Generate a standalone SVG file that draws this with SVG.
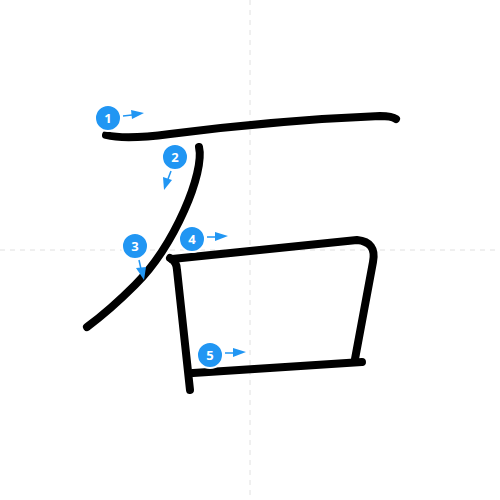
<svg xmlns="http://www.w3.org/2000/svg" width="500" height="500" viewBox="0 0 500 500">
<style>
.grid{stroke:#e0e0e0;stroke-width:1;stroke-dasharray:5,5;fill:none}
.st{fill:none;stroke:#000;stroke-width:8;stroke-linecap:round;stroke-linejoin:round}
.badge{fill:#2196f3;stroke:#fff;stroke-width:2}
.num{fill:#fff;font-family:"Open Sans","DejaVu Sans",sans-serif;font-weight:bold;font-size:13px;text-anchor:middle;dominant-baseline:central}
.arr{stroke:#2196f3;stroke-width:1.5;fill:none}
.head{fill:#2196f3}
</style>
<rect width="500" height="500" fill="#fff"/>
<g id="grid">
<line class="grid" x1="250" y1="0" x2="250" y2="500"/>
<line class="grid" x1="0" y1="250" x2="500" y2="250"/>
</g>
<g id="connectors">
<path id="s1" class="st" d="M106,135 Q125,140 170,134 Q280,120 380,116 Q392,116 396,119"/>
<path id="s2" class="st" d="M199,147 C205,172 175,245 135,285 Q110,310 87,327"/>
<path id="s3" class="st" d="M170,258 Q177,262 177,270 L190,390"/>
<path id="s4" class="st" d="M172,259 L357,240 Q377,242 373,262 L355,359"/>
<path id="s5" class="st" d="M193,373 L362,362"/>
</g>
<g id="n1">
<circle class="badge" cx="108" cy="118" r="13"/><text class="num" x="108" y="118">1</text>
<line class="arr" x1="123" y1="116" x2="132" y2="115"/><polygon class="head" points="131,110 144,113 132,119"/>
</g>
<g id="n2">
<circle class="badge" cx="175" cy="157" r="13"/><text class="num" x="175" y="157">2</text>
<line class="arr" x1="171" y1="171" x2="168" y2="179"/><polygon class="head" points="163,177 172,180 164,190"/>
</g>
<g id="n3">
<circle class="badge" cx="135" cy="246" r="13"/><text class="num" x="135" y="246">3</text>
<line class="arr" x1="139" y1="260" x2="141" y2="269"/><polygon class="head" points="136,268 146,267 144,280"/>
</g>
<g id="n4">
<circle class="badge" cx="192" cy="239" r="13"/><text class="num" x="192" y="239">4</text>
<line class="arr" x1="207" y1="237" x2="216" y2="237"/><polygon class="head" points="215,232 228,236 215,241"/>
</g>
<g id="n5">
<circle class="badge" cx="210" cy="355" r="13"/><text class="num" x="210" y="355">5</text>
<line class="arr" x1="225" y1="353" x2="234" y2="353"/><polygon class="head" points="233,348 246,352 233,357"/>
</g>
</svg>
